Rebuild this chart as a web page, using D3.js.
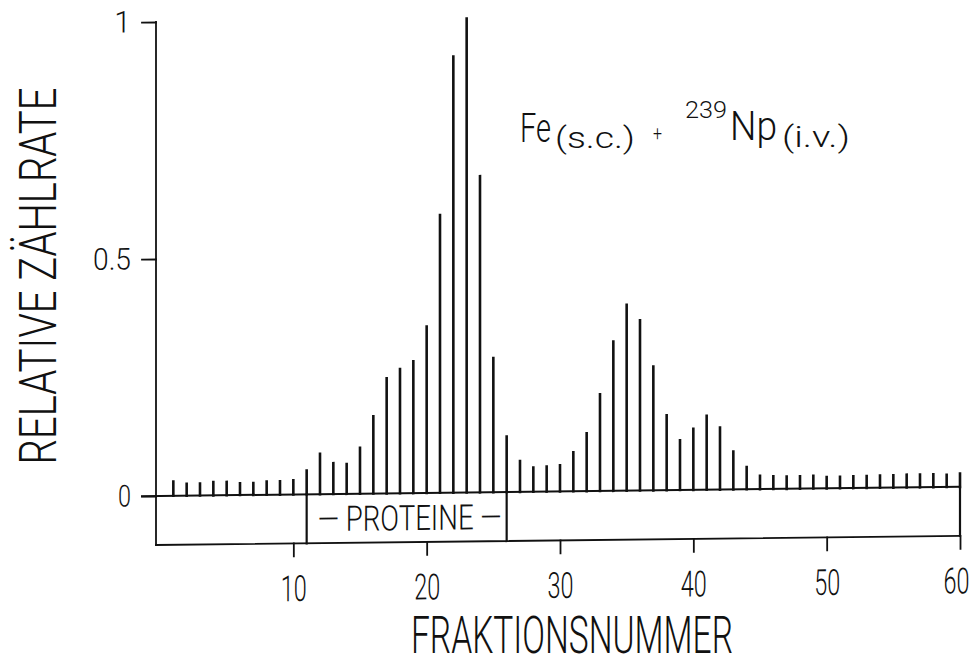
<!DOCTYPE html>
<html>
<head>
<meta charset="utf-8">
<script src="https://cdn.jsdelivr.net/npm/d3@7"></script>
<style>
  body { margin: 0; background: #fff; }
  text { font-family: Roboto, 'DejaVu Sans', sans-serif; font-weight: 300; fill: #111; }
</style>
</head>
<body>
<div id="chart"></div>
<script>
// fraction numbers and relative count rate
var fractions = [1, 2, 3, 4, 5, 6, 7, 8, 9, 10,
  11, 12, 13, 14, 15, 16, 17, 18, 19, 20,
  21, 22, 23, 24, 25, 26, 27, 28, 29, 30,
  31, 32, 33, 34, 35, 36, 37, 38, 39, 40,
  41, 42, 43, 44, 45, 46, 47, 48, 49, 50,
  51, 52, 53, 54, 55, 56, 57, 58, 59, 60];
var rates = [0.030, 0.025, 0.025, 0.028, 0.028, 0.025, 0.025, 0.028, 0.028, 0.030,
  0.050, 0.085, 0.065, 0.063, 0.097, 0.163, 0.243, 0.262, 0.278, 0.351,
  0.586, 0.920, 1.000, 0.667, 0.283, 0.117, 0.065, 0.051, 0.053, 0.055,
  0.082, 0.122, 0.204, 0.315, 0.392, 0.359, 0.261, 0.158, 0.105, 0.129,
  0.156, 0.131, 0.080, 0.047, 0.028, 0.027, 0.026, 0.026, 0.027, 0.024,
  0.024, 0.025, 0.025, 0.026, 0.026, 0.027, 0.027, 0.027, 0.026, 0.028];
var xTicks = [10, 20, 30, 40, 50, 60];
var yTicks = [0, 0.5, 1];
var yTickLabels = ['0', '0.5', '1'];
var proteinFractions = [11, 26];

var svgWidth = 980;
var svgHeight = 667;

var svg = d3.select('#chart')
  .append('svg')
  .attr('width', svgWidth)
  .attr('height', svgHeight);

svg.append('rect')
  .attr('width', svgWidth)
  .attr('height', svgHeight)
  .attr('fill', '#fff');

var xScale = d3.scaleLinear().domain([0, 60]).range([160, 960]);
var yScale = d3.scaleLinear().domain([0, 1]).range([496, 22]);

var axisX = 156;       // left frame line
var frameBottom = 545; // lower frame line

// the scan is slightly sheared: horizontal lines drop to the right
var plot = svg.append('g')
  .attr('transform', `translate(${axisX},${yScale(0)}) skewY(-0.65) translate(${-axisX},${-yScale(0)})`)
  .attr('stroke', '#111')
  .attr('stroke-linecap', 'square');

// frame: left axis, bottom line, right edge
plot.append('line')
  .attr('x1', axisX).attr('x2', axisX)
  .attr('y1', yScale(1)).attr('y2', frameBottom)
  .attr('stroke-width', 1.8);

plot.append('line')
  .attr('x1', axisX).attr('x2', xScale(60))
  .attr('y1', frameBottom).attr('y2', frameBottom)
  .attr('stroke-width', 1.8);

plot.append('line')
  .attr('x1', xScale(60)).attr('x2', xScale(60))
  .attr('y1', yScale(0)).attr('y2', frameBottom)
  .attr('stroke-width', 2.2);

// baseline, runs past the axis as the 0 tick
plot.append('line')
  .attr('x1', axisX - 14).attr('x2', xScale(60))
  .attr('y1', yScale(0)).attr('y2', yScale(0))
  .attr('stroke-width', 2);

// protein region boundaries
plot.selectAll('line.prot')
  .data(proteinFractions)
  .enter()
  .append('line')
  .attr('class', 'prot')
  .attr('x1', d => xScale(d)).attr('x2', d => xScale(d))
  .attr('y1', yScale(0)).attr('y2', frameBottom)
  .attr('stroke-width', 2.2);

// bars
plot.selectAll('line.bar')
  .data(fractions)
  .enter()
  .append('line')
  .attr('class', 'bar')
  .attr('x1', d => xScale(d)).attr('x2', d => xScale(d))
  .attr('y1', yScale(0))
  .attr('y2', (d, i) => yScale(rates[i]))
  .attr('stroke-width', 2.6);

// y axis ticks and labels
var leftAxis = d3.axisLeft(yScale)
  .tickValues(yTicks)
  .tickSize(14)
  .tickSizeOuter(0)
  .tickPadding(11)
  .tickFormat((d, i) => yTickLabels[i]);

var yAxisG = plot.append('g')
  .attr('transform', `translate(${axisX},0)`)
  .call(leftAxis);
yAxisG.select('.domain').remove();
yAxisG.selectAll('.tick line').attr('stroke', '#111').attr('stroke-width', 1.8);
yAxisG.selectAll('.tick text')
  .attr('stroke', 'none')
  .style('font-size', '30px')
  .style('font-family', 'Roboto, sans-serif')
  .attr('textLength', d => d === 0.5 ? 38 : (d === 0 ? 13 : null))
  .attr('lengthAdjust', 'spacingAndGlyphs');

// x axis ticks and labels
var bottomAxis = d3.axisBottom(xScale)
  .tickValues(xTicks)
  .tickSize(13)
  .tickSizeOuter(0)
  .tickPadding(19);

var xAxisG = plot.append('g')
  .attr('transform', `translate(0,${frameBottom})`)
  .call(bottomAxis);
xAxisG.select('.domain').remove();
xAxisG.selectAll('.tick line').attr('stroke', '#111').attr('stroke-width', 1.8);
xAxisG.selectAll('.tick text')
  .attr('stroke', 'none')
  .style('font-size', '36px')
  .style('font-family', 'Roboto, sans-serif')
  .attr('dx', d => d === 60 ? -4 : 0)
  .attr('textLength', 26)
  .attr('lengthAdjust', 'spacingAndGlyphs');

// protein label between the boundaries
plot.append('text')
  .attr('stroke', 'none')
  .attr('x', (xScale(proteinFractions[0]) + xScale(proteinFractions[1])) / 2 + 3)
  .attr('y', frameBottom - 12)
  .attr('text-anchor', 'middle')
  .attr('textLength', 184)
  .attr('lengthAdjust', 'spacingAndGlyphs')
  .style('font-size', '35px')
  .text('— PROTEINE —');

// axis titles
svg.append('text')
  .attr('transform', 'translate(56,276) rotate(-90)')
  .attr('text-anchor', 'middle')
  .attr('textLength', 377)
  .attr('lengthAdjust', 'spacingAndGlyphs')
  .style('font-size', '52px')
  .text('RELATIVE ZÄHLRATE');

svg.append('text')
  .attr('x', 572)
  .attr('y', 653)
  .attr('text-anchor', 'middle')
  .attr('textLength', 322)
  .attr('lengthAdjust', 'spacingAndGlyphs')
  .style('font-size', '52px')
  .text('FRAKTIONSNUMMER');

// annotation Fe(s.c.) + 239Np(i.v.)
var note = [
  {t: 'Fe', x: 520, y: 142, size: 41, w: 31},
  {t: '(s.c.)', x: 555, y: 148, size: 29, w: 80},
  {t: '+', x: 653, y: 140, size: 20, w: 9},
  {t: '239', x: 685, y: 118, size: 24, w: 42},
  {t: 'Np', x: 730, y: 140, size: 41, w: 47},
  {t: '(i.v.)', x: 782, y: 147, size: 29, w: 68}
];
svg.selectAll('text.note')
  .data(note)
  .enter()
  .append('text')
  .attr('class', 'note')
  .attr('x', d => d.x)
  .attr('y', d => d.y)
  .attr('textLength', d => d.w)
  .attr('lengthAdjust', 'spacingAndGlyphs')
  .style('font-size', d => d.size + 'px')
  .text(d => d.t);
</script>
</body>
</html>
